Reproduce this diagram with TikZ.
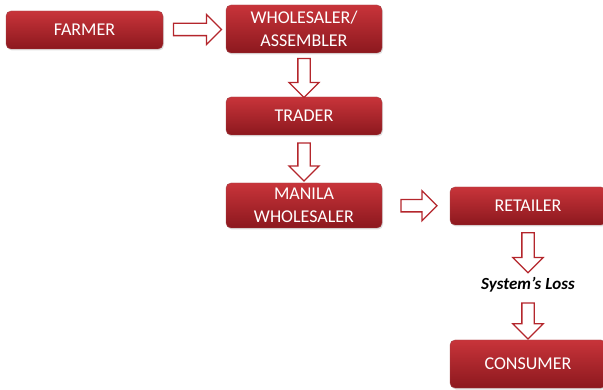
\documentclass[tikz,border=0pt]{standalone}
\usepackage{fontspec}
\setmainfont{Carlito}
\usepackage{tikz}
\usetikzlibrary{shapes.arrows, shadows, calc}
\definecolor{vermelho}{RGB}{200,52,58}
\definecolor{vinho}{RGB}{140,24,30}
\definecolor{contorno}{RGB}{180,38,44}

\begin{document}
\begin{tikzpicture}[x=1pt, y=-1pt,
    bloco/.style={rounded corners=5pt, top color=vermelho, bottom color=vinho, draw=vinho!80, text=white, minimum width=156pt, align=center, font=\fontsize{18}{23}\selectfont, drop shadow={opacity=0.25, shadow xshift=1pt, shadow yshift=-1.5pt}},
    seta/.style={single arrow, draw=contorno, fill=white, line width=1.3pt, inner sep=5.5pt, single arrow head extend=9pt, minimum height=#1},
    setaB/.style={seta=#1, shape border rotate=270}
  ]
    \useasboundingbox (0,0) rectangle (603,390);
    \node[bloco, minimum width=157pt, minimum height=38pt] (farmer) at (84.5,30) {FARMER};
    \node[bloco, minimum height=48pt] (atacado) at (304,29) {WHOLESALER/\\ASSEMBLER};
    \node[bloco, minimum height=38pt] (trader) at (304,116) {TRADER};
    \node[bloco, minimum height=45pt] (manila) at (304,205.5) {MANILA\\WHOLESALER};
    \node[bloco, minimum height=38pt] (retailer) at (528,206) {RETAILER};
    \node[font=\fontsize{17}{20}\selectfont\bfseries\itshape] (perda) at (528,285) {System’s Loss};
    \node[bloco, minimum height=48pt] (consumer) at (528,364) {CONSUMER};
    % setas
    \node[seta=48pt] (s1) at ($(farmer.east)!0.5!(atacado.west)$) {};
    \node[setaB=39pt] (s2) at ($(atacado.south)!0.5!(trader.north)$) {};
    \node[setaB=38pt] (s3) at ($(trader.south)!0.5!(manila.north)$) {};
    \node[seta=36pt] (s4) at ($(manila.east)!0.5!(retailer.west)$) {};
    \node[setaB=40pt] (s5) at ($(retailer.south)!0.5!(perda.north)$) {};
    \node[setaB=36pt] (s6) at ($(perda.south)!0.5!(consumer.north)$) {};
  \end{tikzpicture}
\end{document}
